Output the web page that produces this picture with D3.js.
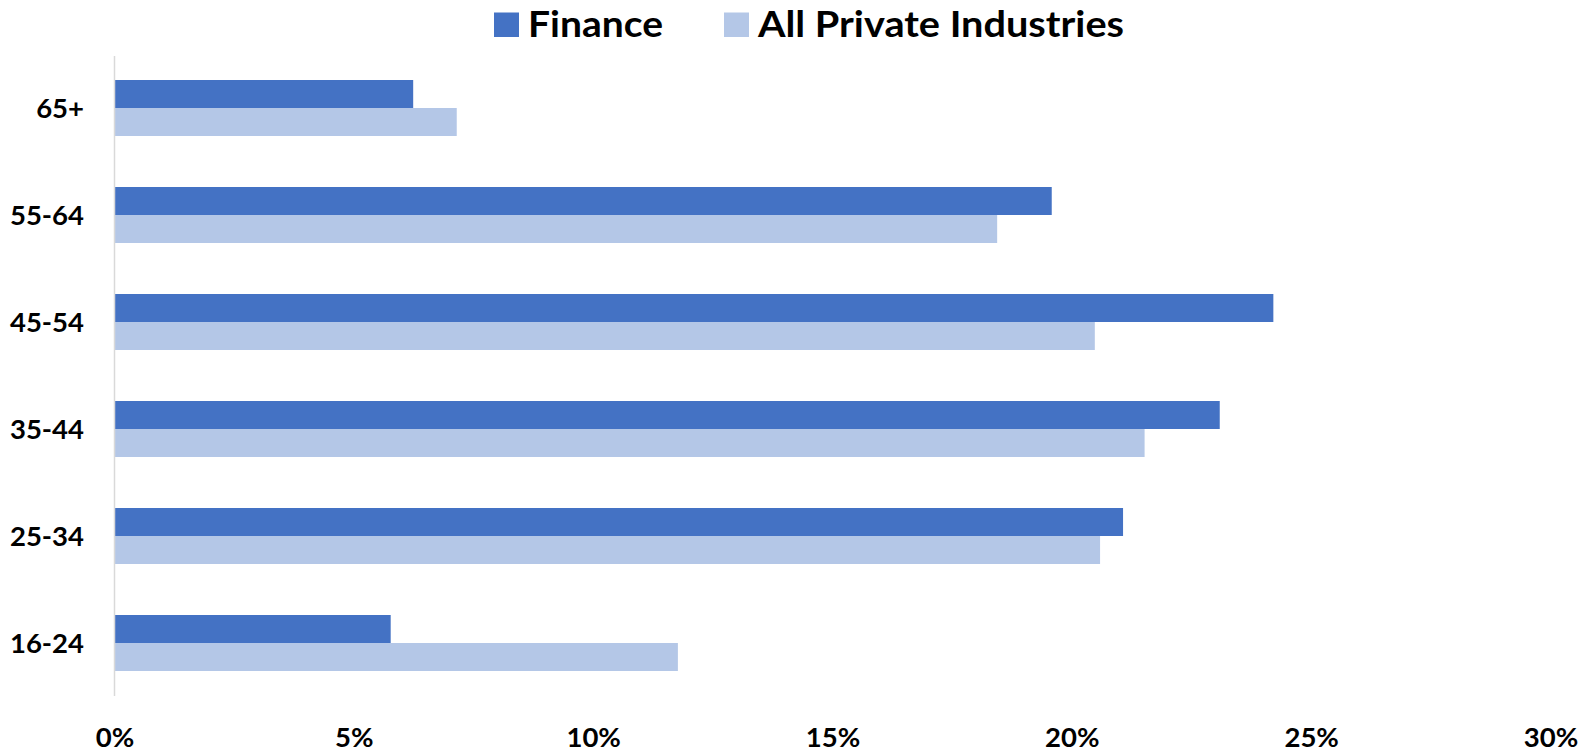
<!DOCTYPE html>
<html>
<head>
<meta charset="utf-8">
<script src="https://cdn.jsdelivr.net/npm/d3@7"></script>
<style>
  body { margin: 0; background: #fff; }
  svg text { font-family: Lato, "Open Sans", sans-serif; font-weight: bold; fill: #000; }
</style>
</head>
<body>
<svg id="chart" width="1594" height="753"></svg>
<script>
var ageGroups = ['65+', '55-64', '45-54', '35-44', '25-34', '16-24'];
var finance = [6.24, 19.58, 24.21, 23.09, 21.07, 5.77];
var allPrivate = [7.15, 18.44, 20.48, 21.52, 20.59, 11.77];
var seriesNames = ['Finance', 'All Private Industries'];
var seriesColors = ['#4472C4', '#B4C7E7'];
var xTicks = [0, 5, 10, 15, 20, 25, 30];

var svg = d3.select('#chart');

var x = d3.scaleLinear().domain([0, 30]).range([114.5, 1550.5]);
var y = d3.scaleBand().domain(ageGroups).range([54.5, 696.5])
  .paddingInner(0.4766).paddingOuter(0.2383);
var ySub = d3.scaleBand().domain(seriesNames).range([0, y.bandwidth()]);

var rows = ageGroups.map(function (g, i) {
  return {group: g, values: [finance[i], allPrivate[i]]};
});

//bars
var groups = svg.selectAll('g.row').data(rows).enter().append('g')
  .attr('class', 'row')
  .attr('transform', function (d) { return 'translate(0,' + y(d.group) + ')'; });

groups.selectAll('rect').data(function (d) {
  return d.values.map(function (v, j) { return {name: seriesNames[j], value: v, color: seriesColors[j]}; });
}).enter().append('rect')
  .attr('x', x(0))
  .attr('y', function (d) { return ySub(d.name); })
  .attr('width', function (d) { return x(d.value) - x(0); })
  .attr('height', ySub.bandwidth())
  .attr('fill', function (d) { return d.color; });

//vertical axis line
svg.append('line')
  .attr('x1', x(0)).attr('x2', x(0))
  .attr('y1', 56).attr('y2', 696)
  .attr('stroke', '#d9d9d9').attr('stroke-width', 1.5);

//category labels
var yAxis = d3.axisLeft(y).tickSize(0).tickPadding(0);
var yg = svg.append('g').attr('transform', 'translate(84,0)').call(yAxis);
yg.select('.domain').remove();
yg.selectAll('text').attr('font-size', 27.5).attr('dy', '0.36em')
  .style('font-family', 'Lato, sans-serif').style('font-weight', 'bold');

//x tick labels
var xAxis = d3.axisBottom(x).tickValues(xTicks).tickSize(0).tickPadding(0)
  .tickFormat(function (d) { return d + '%'; });
var xg = svg.append('g').attr('transform', 'translate(0,747)').call(xAxis);
xg.select('.domain').remove();
xg.selectAll('text').attr('font-size', 27.5).attr('dy', 0).attr('y', 0)
  .style('font-family', 'Lato, sans-serif').style('font-weight', 'bold');

//legend
var legendX = [494, 724];
var legendTextWidth = [135, 366];
var legend = svg.selectAll('g.legend').data(seriesNames).enter().append('g')
  .attr('class', 'legend')
  .attr('transform', function (d, i) { return 'translate(' + legendX[i] + ',0)'; });
legend.append('rect')
  .attr('x', 0).attr('y', 12.5).attr('width', 25).attr('height', 24.5)
  .attr('fill', function (d, i) { return seriesColors[i]; });
legend.append('text')
  .attr('x', 34).attr('y', 37)
  .attr('font-size', 37)
  .attr('textLength', function (d, i) { return legendTextWidth[i]; })
  .attr('lengthAdjust', 'spacingAndGlyphs')
  .text(function (d) { return d; });
</script>
</body>
</html>
